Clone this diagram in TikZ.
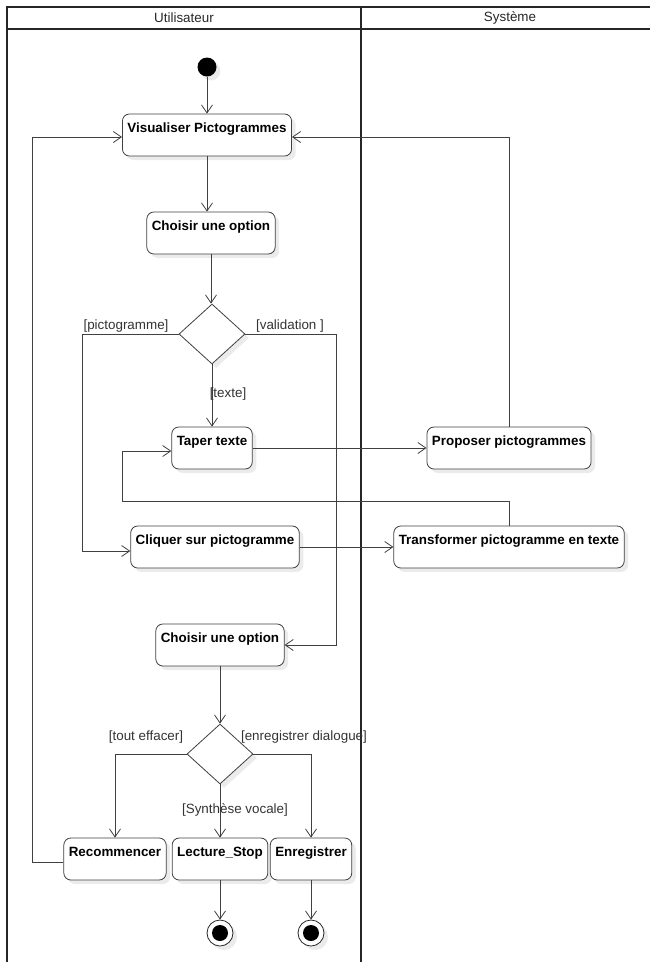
\documentclass[tikz,border=0pt]{standalone}
\usepackage{fontspec}
\setmainfont{Liberation Sans}
\usetikzlibrary{arrows.meta,shapes.geometric,shadows}

\begin{document}
\begin{tikzpicture}[x=1pt, y=-1pt,
    font=\fontsize{13.4}{15}\selectfont,
    couloir/.style={line width=1.4pt, black!85},
    entete/.style={inner sep=0pt, text=black!85},
    ombre/.style={drop shadow={shadow xshift=4pt, shadow yshift=-4pt, opacity=0.16}},
    activite/.style={draw=black!75, line width=0.8pt, fill=white, rounded corners=7pt,
        font=\fontsize{13.4}{15}\selectfont\bfseries, inner xsep=5pt, inner ysep=5pt,
        text height=13pt, text depth=19pt, ombre},
    choix/.style={diamond, draw=black!75, line width=0.8pt, fill=white,
        minimum width=66pt, minimum height=60pt, inner sep=0pt, ombre},
    debut/.style={circle, fill=black, minimum size=19pt, inner sep=0pt, ombre},
    fin/.style={circle, draw=black!85, line width=0.8pt, fill=white, minimum size=26pt,
        inner sep=0pt, ombre,
        path picture={\fill[black] (path picture bounding box.center) circle (8pt);}},
    garde/.style={text=black!80, inner sep=0pt},
    flux/.style={draw=black!75, line width=0.8pt, -{Straight Barb[length=8pt, width=11pt]}}]

\useasboundingbox (0,0) rectangle (650,962);

\draw[couloir] (7,962) -- (7,7) -- (650,7);
\draw[couloir] (7,29) -- (650,29);
\draw[couloir] (361,7) -- (361,962);

\node[entete] (utilisateur) at (184,18) {Utilisateur};
\node[entete] (systeme) at (510,18) {Système};

\node[debut] (depart) at (207,67) {};
\node[activite] (visu) at (207,135) {Visualiser Pictogrammes};
\node[activite] (choix1) at (211,233) {Choisir une option};
\node[choix] (dec1) at (212,334) {};
\node[activite] (taper) at (212,448) {Taper texte};
\node[activite] (propo) at (509,448) {Proposer pictogrammes};
\node[activite] (cliq) at (215,547) {Cliquer sur pictogramme};
\node[activite] (transf) at (509,547) {Transformer pictogramme en texte};
\node[activite] (choix2) at (220,645) {Choisir une option};
\node[choix] (dec2) at (220,754) {};
\node[activite] (recom) at (115,859) {Recommencer};
\node[activite] (lect) at (220,859) {Lecture\_Stop};
\node[activite] (enreg) at (311,859) {Enregistrer};
\node[fin] (fin1) at (220,933) {};
\node[fin] (fin2) at (311,933) {};

\draw[flux] (depart) -- (visu);
\draw[flux] (visu.south) -- (visu.south |- choix1.north);
\draw[flux] (choix1.south) -- (choix1.south |- dec1.north);
\draw[flux] (dec1.west) -- (82,334) |- ([yshift=-4pt]cliq.west);
\draw[flux] (dec1.east) -- (336,334) |- (choix2.east);
\draw[flux] (dec1) -- (taper);
\draw[flux] (taper) -- (propo);
\draw[flux] (propo.north) |- ([yshift=-2pt]visu.east);
\draw[flux] (transf.north) |- (122,501) |- ([yshift=-3pt]taper.west);
\draw[flux] (cliq) -- (transf);
\draw[flux] (choix2) -- (dec2);
\draw[flux] (dec2.west) -| (recom.north);
\draw[flux] (dec2.east) -| (enreg.north);
\draw[flux] (dec2) -- (lect);
\draw[flux] ([yshift=-3pt]recom.west) -- (32,862) |- ([yshift=-2pt]visu.west);
\draw[flux] (lect) -- (fin1);
\draw[flux] (enreg) -- (fin2);

\node[garde] (gpicto) at (126,326) {[pictogramme]};
\node[garde] (gvalid) at (290,326) {[validation ]};
\node[garde] (gtexte) at (228,394) {[texte]};
\node[garde] (geffacer) at (146,737) {[tout effacer]};
\node[garde] (gdialogue) at (304,737) {[enregistrer dialogue]};
\node[garde] (gvocale) at (235,810) {[Synthèse vocale]};

\end{tikzpicture}
\end{document}
